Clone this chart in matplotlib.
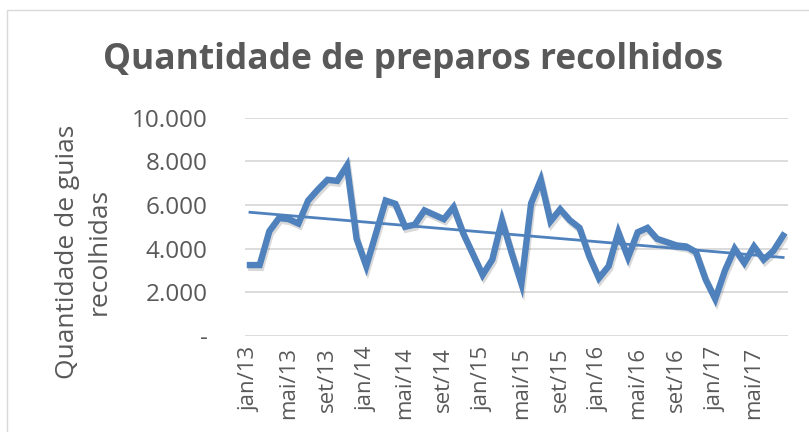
import numpy as np
import matplotlib
matplotlib.use("Agg")
import matplotlib.pyplot as plt
import matplotlib.patheffects as pe

# meses jan/13 .. ago/17
meses = ["jan", "fev", "mar", "abr", "mai", "jun", "jul", "ago", "set", "out", "nov", "dez"]
rotulos = [f"{m}/{a}" for a in range(13, 18) for m in meses][:56]

guias = [3250, 3250, 4800, 5400, 5350, 5150, 6200, 6700, 7150, 7100, 7800, 4450,
         3200, 4700, 6200, 6050, 5000, 5100, 5750, 5550, 5350, 5900, 4700, 3750,
         2800, 3500, 5300, 3800, 2400, 6070, 7150, 5250, 5800, 5300, 4950, 3650,
         2650, 3200, 4750, 3600, 4750, 4950, 4450, 4300, 4150, 4100, 3850, 2600,
         1700, 3000, 4000, 3350, 4100, 3500, 3900, 4600]

yticks = [0, 2000, 4000, 6000, 8000, 10000]
ylabels = ["-", "2.000", "4.000", "6.000", "8.000", "10.000"]

cinza = "#595959"
azul = "#4f81bd"
fonte = "Open Sans"

fig = plt.figure(figsize=(8.09, 4.32), dpi=100)
fig.patches.append(plt.Rectangle((0.009, -0.01), 1.0, 0.987, transform=fig.transFigure,
                                 fill=False, edgecolor="#d9d9d9", linewidth=1))
ax = fig.add_axes([0.303, 0.222, 0.671, 0.506])

x = np.arange(len(guias))
ax.plot(x, guias, color=azul, linewidth=4.6, solid_joinstyle="miter",
        path_effects=[pe.SimpleLineShadow(offset=(1, -2), shadow_color="#000000", alpha=0.15),
                      pe.Normal()])

# linha de tendencia linear
a, b = np.polyfit(x, guias, 1)
ax.plot(x, a * x + b, color=azul, linewidth=2.0)

ax.set_xlim(-0.5, len(guias) - 0.5)
ax.set_ylim(0, 10000)
ax.set_yticks(yticks)
ax.set_yticklabels(ylabels)
ax.set_xticks(x[::4])
ax.set_xticklabels(rotulos[::4], rotation=90)
ax.grid(axis="y", color="#d9d9d9", linewidth=1.3)
ax.set_axisbelow(True)
for s in ax.spines.values():
    s.set_visible(False)
ax.tick_params(length=0, colors=cinza)
for t in ax.get_yticklabels():
    t.set_fontsize(17.5)
    t.set_fontfamily(fonte)
for t in ax.get_xticklabels():
    t.set_fontsize(16)
    t.set_fontfamily(fonte)
ax.tick_params(axis="y", pad=27)
ax.tick_params(axis="x", pad=8)

fig.text(0.1026, 0.417, "Quantidade de guias\nrecolhidas", rotation=90, ha="center",
         va="center", fontsize=19, color=cinza, fontfamily=fonte, linespacing=1.35)

fig.text(0.51, 0.862, "Quantidade de preparos recolhidos", ha="center", va="center",
         fontsize=25.5, fontweight="bold", color=cinza, fontfamily=fonte)

fig.savefig("out.png", dpi=100)
